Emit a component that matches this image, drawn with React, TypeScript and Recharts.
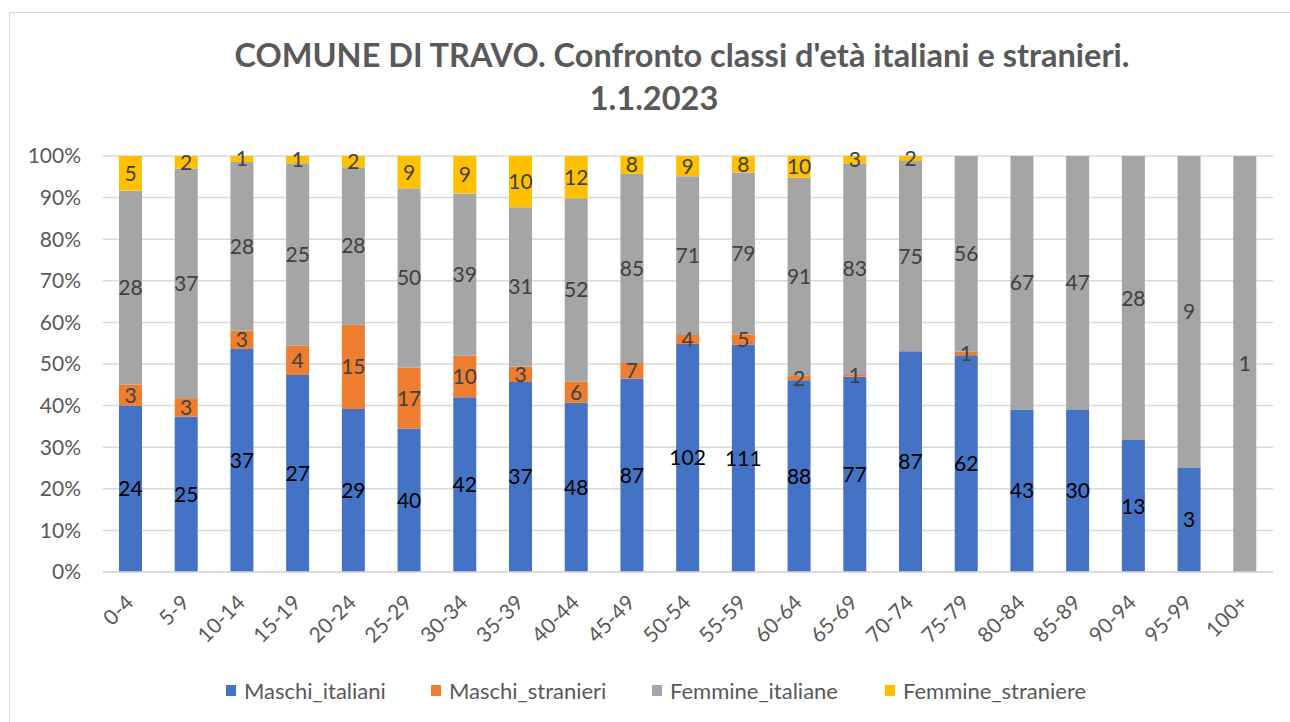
import { BarChart, Bar, XAxis, YAxis, CartesianGrid, LabelList } from "recharts";

const categories = ["0-4", "5-9", "10-14", "15-19", "20-24", "25-29", "30-34", "35-39", "40-44", "45-49", "50-54", "55-59", "60-64", "65-69", "70-74", "75-79", "80-84", "85-89", "90-94", "95-99", "100+"];
const maschiItaliani = [24, 25, 37, 27, 29, 40, 42, 37, 48, 87, 102, 111, 88, 77, 87, 62, 43, 30, 13, 3, 0];
const maschiStranieri = [3, 3, 3, 4, 15, 17, 10, 3, 6, 7, 4, 5, 2, 1, 0, 1, 0, 0, 0, 0, 0];
const femmineItaliane = [28, 37, 28, 25, 28, 50, 39, 31, 52, 85, 71, 79, 91, 83, 75, 56, 67, 47, 28, 9, 1];
const femmineStraniere = [5, 2, 1, 1, 2, 9, 9, 10, 12, 8, 9, 8, 10, 3, 2, 0, 0, 0, 0, 0, 0];
const yTicks = [0, 0.1, 0.2, 0.3, 0.4, 0.5, 0.6, 0.7, 0.8, 0.9, 1];

const series = [
    { key: "Maschi_italiani", color: "#4472C4", label: "#000000", legendX: 226 },
    { key: "Maschi_stranieri", color: "#ED7D31", label: "#404040", legendX: 431 },
    { key: "Femmine_italiane", color: "#A5A5A5", label: "#404040", legendX: 652 },
    { key: "Femmine_straniere", color: "#FFC000", label: "#404040", legendX: 885 },
];

const data = categories.map((eta, i) => ({
    eta,
    Maschi_italiani: maschiItaliani[i],
    Maschi_stranieri: maschiStranieri[i],
    Femmine_italiane: femmineItaliane[i],
    Femmine_straniere: femmineStraniere[i],
}));

const FONT = "Lato, 'Noto Sans', sans-serif";
const GREY = "#595959";

function XTick({ x, y, payload }: any) {
    return (
        <text
            transform={`translate(${x + 4},${y + 32}) rotate(-45)`}
            textAnchor="end"
            fontSize={21}
            fontFamily={FONT}
            fill={GREY}
        >
            {payload.value}
        </text>
    );
}

const hideZero = (v: any) => (v === 0 || v == null ? "" : v);

export default function App() {
    return (
        <div style={{ position: "absolute", left: 0, top: 0, width: 1290, height: 722, background: "#fff", overflow: "hidden", fontFamily: FONT }}>
            <div style={{ position: "absolute", left: 9, top: 12, width: 1300, height: 740, border: "1px solid #d9d9d9" }} />
            <svg style={{ position: "absolute", left: 0, top: 0 }} width={1290} height={130}>
                <text x={682} y={67} textAnchor="middle" fontSize={32.5} fontWeight="bold" fill={GREY} fontFamily={FONT}>
                    COMUNE DI TRAVO. Confronto classi d'età italiani e stranieri.
                </text>
                <text x={654} y={110} textAnchor="middle" fontSize={32.5} fontWeight="bold" fill={GREY} fontFamily={FONT}>
                    1.1.2023
                </text>
            </svg>
            <div style={{ position: "absolute", left: 0, top: 0 }}>
                <BarChart width={1290} height={722} data={data} stackOffset="expand" barSize={23} margin={{ top: 156, right: 17, bottom: 0, left: 8 }}>
                    <CartesianGrid vertical={false} stroke="#d9d9d9" strokeWidth={1.5} />
                    <XAxis dataKey="eta" height={150} stroke="#d9d9d9" strokeWidth={1.5} tickLine={false} tick={<XTick />} interval={0} tickSize={0} tickMargin={0} />
                    <YAxis
                        width={95}
                        domain={[0, 1]}
                        ticks={yTicks}
                        axisLine={false}
                        tickLine={false}
                        tickSize={0}
                        tickMargin={22}
                        tickFormatter={(v: number) => `${Math.round(v * 100)}%`}
                        tick={{ fontSize: 21, fill: GREY, fontFamily: FONT }}
                    />
                    {series.map((s) => (
                        <Bar key={s.key} dataKey={s.key} stackId="a" fill={s.color} isAnimationActive={false}>
                            <LabelList dataKey={s.key} position="center" formatter={hideZero} fill={s.label} fontSize={21} fontFamily={FONT} />
                        </Bar>
                    ))}
                </BarChart>
            </div>
            {series.map((s) => (
                <div key={s.key} style={{ position: "absolute", left: s.legendX, top: 677, display: "flex", alignItems: "center", fontSize: 22, color: GREY }}>
                    <span style={{ width: 10, height: 11, background: s.color, display: "inline-block", marginRight: 8 }} />
                    <span>{s.key}</span>
                </div>
            ))}
        </div>
    );
}
